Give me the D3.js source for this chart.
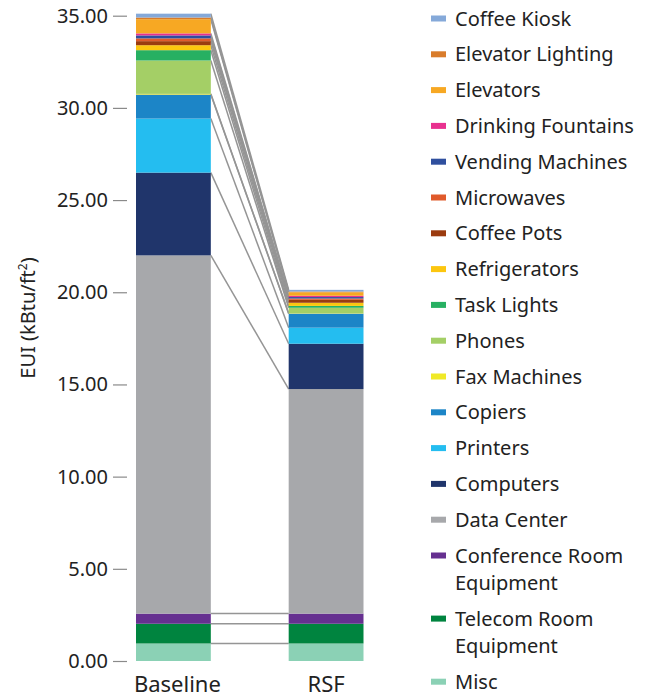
<!DOCTYPE html>
<html>
<head>
<meta charset="utf-8">
<script src="https://cdn.jsdelivr.net/npm/d3@7"></script>
<style>
  body { margin: 0; background: #fff; }
  text { font-family: "Noto Sans", sans-serif; fill: #222; }
</style>
</head>
<body>
<div id="main"></div>
<script>
// stacking order, bottom to top
const categories = ["Misc", "Telecom Room Equipment", "Conference Room Equipment", "Data Center",
  "Computers", "Printers", "Copiers", "Fax Machines", "Phones", "Task Lights", "Refrigerators",
  "Coffee Pots", "Microwaves", "Vending Machines", "Drinking Fountains", "Elevators",
  "Elevator Lighting", "Coffee Kiosk"];
const colors = ["#8bd1b5", "#00843f", "#663090", "#a7a8ab", "#20356b", "#24bdf0", "#1c85c7",
  "#f0e927", "#a4cf66", "#27b062", "#fcc60f", "#9b3b0f", "#e05a2b", "#2f4f9e", "#e8318f",
  "#f7a823", "#d97c2b", "#85a9d9"];
const baseline = [0.95, 1.07, 0.55, 19.43, 4.49, 2.93, 1.30, 0.04, 1.81, 0.56, 0.27,
  0.22, 0.15, 0.16, 0.11, 0.77, 0.09, 0.21];
const rsf = [0.95, 1.07, 0.55, 12.18, 2.46, 0.87, 0.76, 0.02, 0.30, 0.10, 0.17,
  0.16, 0.07, 0.08, 0.07, 0.19, 0.04, 0.09];
const groups = ["Baseline", "RSF"];
const yTicks = [0, 5, 10, 15, 20, 25, 30, 35];
// legend lines, top to bottom
const legendLabels = [
  ["Coffee Kiosk"], ["Elevator Lighting"], ["Elevators"], ["Drinking Fountains"],
  ["Vending Machines"], ["Microwaves"], ["Coffee Pots"], ["Refrigerators"], ["Task Lights"],
  ["Phones"], ["Fax Machines"], ["Copiers"], ["Printers"], ["Computers"], ["Data Center"],
  ["Conference Room", "Equipment"], ["Telecom Room", "Equipment"], ["Misc"]];

const width = 652, height = 698;

const svg = d3.select("#main").append("svg")
  .attr("width", width)
  .attr("height", height);

function stackGroup(vals) {
  let acc = 0;
  return vals.map(v => { const y0 = acc; acc += v; return [y0, acc]; });
}
const stacked = { Baseline: stackGroup(baseline), RSF: stackGroup(rsf) };

const x = d3.scaleBand().domain(groups).range([136, 363.5]).paddingInner(0.51);
const y = d3.scaleLinear().domain([0, 35]).range([661, 15.7]);
const color = d3.scaleOrdinal().domain(categories).range(colors);

// connector lines
svg.append("g")
  .selectAll("line")
  .data(categories.map((c, i) => i))
  .join("line")
  .attr("x1", x("Baseline") + x.bandwidth())
  .attr("x2", x("RSF"))
  .attr("y1", i => y(stacked.Baseline[i][1]))
  .attr("y2", i => y(stacked.RSF[i][1]))
  .attr("stroke", "#959595")
  .attr("stroke-width", 1.5);

// bars
groups.forEach(g => {
  svg.append("g")
    .selectAll("rect")
    .data(categories.map((c, i) => ({ c, s: stacked[g][i] })))
    .join("rect")
    .attr("x", x(g))
    .attr("width", x.bandwidth())
    .attr("y", d => y(d.s[1]))
    .attr("height", d => y(d.s[0]) - y(d.s[1]))
    .attr("fill", d => color(d.c));
});

// y axis
const yAxis = d3.axisLeft(y)
  .tickValues(yTicks)
  .tickFormat(d3.format(".2f"))
  .tickSize(14)
  .tickPadding(5);

const ax = svg.append("g")
  .attr("transform", "translate(127,0)")
  .call(yAxis);
ax.select(".domain").remove();
ax.selectAll(".tick line").attr("stroke", "#8a8a8a").attr("stroke-width", 1.2);
ax.selectAll(".tick text")
  .attr("font-size", 20)
  .attr("font-family", "Noto Sans, sans-serif")
  .attr("fill", "#222");

// y title
const title = svg.append("text")
  .attr("transform", "translate(35,318) rotate(-90)")
  .attr("text-anchor", "middle")
  .attr("font-size", 20);
title.append("tspan").text("EUI (kBtu/ft");
title.append("tspan").text("2").attr("font-size", 12).attr("dy", -8);
title.append("tspan").text(")").attr("dy", 8);

// x labels
svg.append("g")
  .selectAll("text")
  .data(groups)
  .join("text")
  .attr("x", d => x(d) + x.bandwidth() / 2 + (d === "Baseline" ? 4 : 0))
  .attr("y", 692)
  .attr("text-anchor", "middle")
  .attr("font-size", 22)
  .text(d => d);

// legend
const legendColors = colors.slice().reverse();
const lineH = 27.3;
let ly = 18.5;
const legend = svg.append("g");
legendLabels.forEach((lines, i) => {
  const item = legend.append("g").attr("transform", `translate(431,${ly})`);
  item.append("rect")
    .attr("x", 0).attr("y", -3)
    .attr("width", 15).attr("height", 6)
    .attr("fill", legendColors[i]);
  item.append("text")
    .attr("font-size", 20)
    .selectAll("tspan")
    .data(lines)
    .join("tspan")
    .attr("x", 24)
    .attr("y", (d, j) => j * lineH)
    .attr("dy", "0.35em")
    .text(d => d);
  ly += 35.8 + (lines.length - 1) * lineH;
});
</script>
</body>
</html>
